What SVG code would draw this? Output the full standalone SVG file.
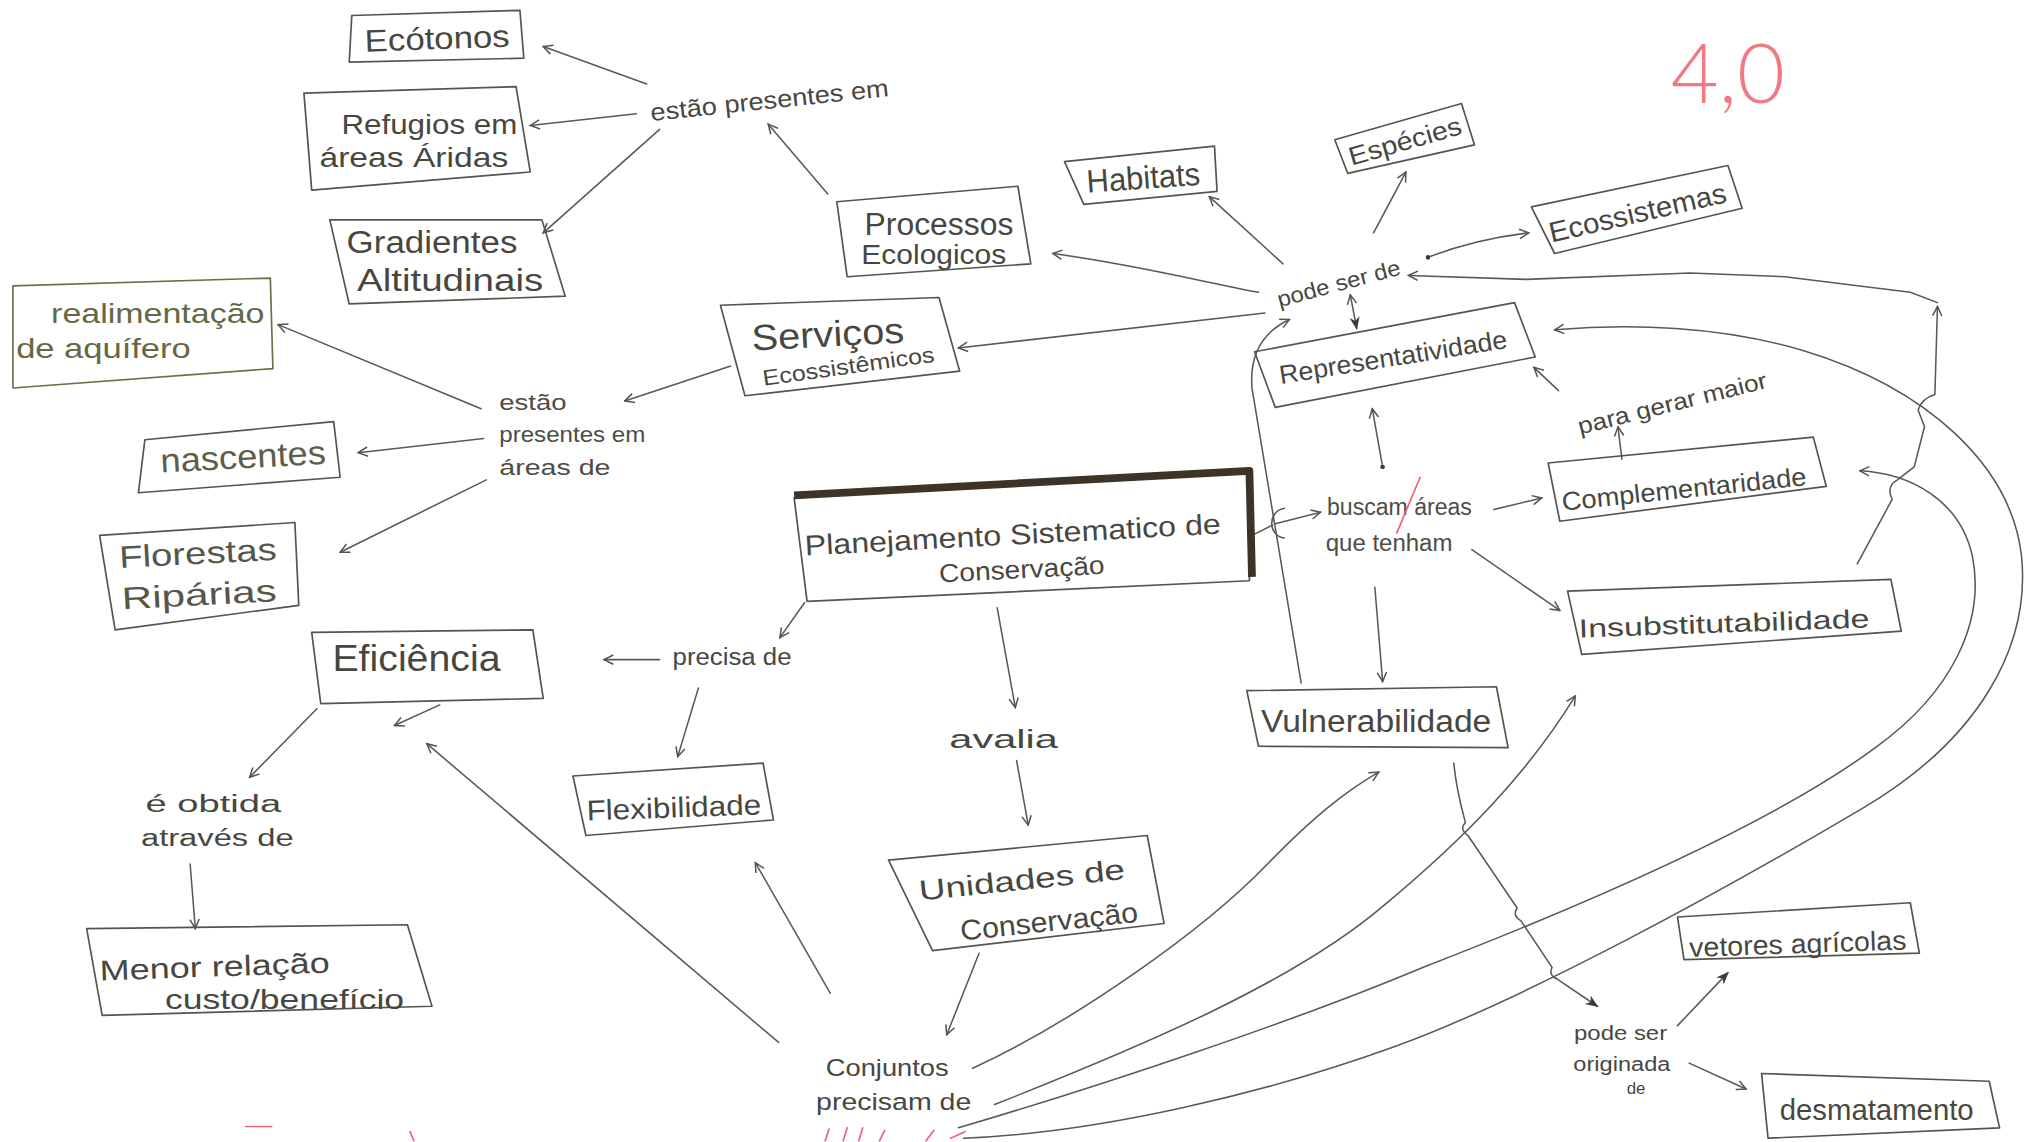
<svg xmlns="http://www.w3.org/2000/svg" width="2028" height="1142" viewBox="0 0 2028 1142">
<defs>
<style>
.bx{fill:none;stroke:#55554e;stroke-width:1.3;stroke-linejoin:round}
.ol{stroke:#6c7048}
.t{font-family:"Liberation Sans","DejaVu Sans",sans-serif;fill:#47473f;text-anchor:middle}
.ts{font-family:"Liberation Sans","DejaVu Sans",sans-serif;fill:#4d4d46;text-anchor:start}
.go{fill:#646844}
.c{fill:none;stroke:#5a5a53;stroke-width:1.2;stroke-linecap:round;stroke-linejoin:round}
.ca{marker-end:url(#a)}
.cf{marker-end:url(#f)}
.red{fill:none;stroke:#ee6272;stroke-width:1.3;stroke-linecap:round}
</style>
<marker id="a" viewBox="0 0 10 10" refX="9" refY="5" markerWidth="9" markerHeight="9" markerUnits="userSpaceOnUse" orient="auto-start-reverse">
<path d="M1,1 L9,5 L1,9" fill="none" stroke="#55554e" stroke-width="1.3"/>
</marker>
<marker id="f" viewBox="0 0 10 10" refX="9" refY="5" markerWidth="10" markerHeight="10" markerUnits="userSpaceOnUse" orient="auto">
<path d="M0,1 L10,5 L0,9 L3,5 Z" fill="#3c3c37"/>
</marker>
<marker id="d" viewBox="0 0 4 4" refX="2" refY="2" markerWidth="3.5" markerHeight="3.5" markerUnits="userSpaceOnUse">
<circle cx="2" cy="2" r="2" fill="#3c3c37"/>
</marker>
</defs>
<rect width="2028" height="1142" fill="#ffffff"/>
<g transform="scale(1.29337)">

<g id="connectors">
<path class="c ca" d="M500,65 L420,36"/>
<path class="c ca" d="M492,88 L410,97"/>
<path class="c ca" d="M510,100 L420,180"/>
<path class="c ca" d="M640,150 L594,96"/>
<path class="c ca" d="M973,226 C930,218 880,205 814,196"/>
<path class="c ca" d="M992,204 L935,152"/>
<path class="c ca" d="M1062,180 L1087,133"/>
<path class="c ca" d="M1104,199 Q1140,185 1182,180" style="marker-start:url(#d)"/>
<path class="c ca" d="M978,242 Q860,255 741,269"/>
<path class="c ca" d="M1006,528 L968,300 Q965,262 997,247"/>
<path class="c cf" d="M1044,228 L1049,254" style="marker-start:url(#a)"/>
<path class="c" d="M1069,361 L1061,316" style="marker-end:url(#a);marker-start:url(#d)"/>
<path class="c" d="M970,413 L984,406 M993,393 C980,395 980,414 993,416"/>
<path class="c ca" d="M986,405 L1021,396"/>
<path class="c ca" d="M1155,394 L1192,385"/>
<path class="c ca" d="M1138,425 L1206,472"/>
<path class="c ca" d="M1063,454 L1069,527"/>
<path class="c ca" d="M1254,355 L1251,330"/>
<path class="c ca" d="M1205,302 L1186,284"/>
<path class="c ca" d="M1436,436 L1463,386 Q1458,376 1467,371 L1480,361 L1488,330 L1483,317 Q1486,308 1496,305 L1498,237"/>
<path class="c ca" d="M1498,234 L1477,226 L1380,214 L1307,211 L1180,216 L1089,213"/>
<path class="c ca" d="M745,880 C850,876 980,845 1079,809 C1180,772 1330,690 1440,625 C1530,572 1570,500 1563,430 C1555,360 1490,300 1394,271 C1330,252 1260,250 1202,255"/>
<path class="c ca" d="M741,872 C850,840 1000,790 1100,748 C1250,690 1380,630 1450,578 C1510,535 1535,480 1525,430 C1515,385 1475,366 1438,364"/>
<path class="c ca" d="M769,854 C880,810 1000,760 1070,700 C1130,650 1180,600 1218,538"/>
<path class="c ca" d="M752,826 C830,790 930,720 980,668 C1015,632 1040,612 1066,597"/>
<path class="c cf" d="M1124,590 C1126,610 1130,625 1133,636 Q1128,641 1135,646 L1173,702 Q1169,708 1176,712 L1200,748 Q1197,754 1204,757 L1235,778"/>
<path class="c cf" d="M1297,793 L1336,752"/>
<path class="c ca" d="M1306,822 L1350,842"/>
<path class="c ca" d="M602,806 L330,575"/>
<path class="c ca" d="M642,768 L584,667"/>
<path class="c ca" d="M757,737 L732,800"/>
<path class="c ca" d="M622,466 L603,493"/>
<path class="c ca" d="M510,510 L467,510"/>
<path class="c ca" d="M540,532 L524,585"/>
<path class="c ca" d="M771,470 L785,547"/>
<path class="c ca" d="M786,588 L795,638"/>
<path class="c ca" d="M245,548 L193,601"/>
<path class="c ca" d="M340,545 L305,561"/>
<path class="c ca" d="M147,668 L151,718"/>
<path class="c ca" d="M372,316 L215,251"/>
<path class="c ca" d="M374,339 L277,350"/>
<path class="c ca" d="M376,371 L263,427"/>
<path class="c ca" d="M565,283 L483,310"/>
</g>

<g id="ecotonos"><polygon class="bx" points="272,12 402,8 405,45 270,48"/>
<text class="t" x="338" y="38" font-size="24" textLength="112" lengthAdjust="spacingAndGlyphs" transform="rotate(-2 338 30)">Ecótonos</text></g>

<g id="refugios"><polygon class="bx" points="235,72 399,67 410,133 241,147"/>
<text class="t" x="332" y="104" font-size="22" textLength="136" lengthAdjust="spacingAndGlyphs">Refugios em</text>
<text class="t" x="320" y="129" font-size="22" textLength="146" lengthAdjust="spacingAndGlyphs">áreas Áridas</text></g>

<g id="gradientes"><polygon class="bx" points="255,170 419,170 437,229 270,235"/>
<text class="t" x="334" y="196" font-size="24" textLength="132" lengthAdjust="spacingAndGlyphs">Gradientes</text>
<text class="t" x="348" y="225" font-size="24" textLength="144" lengthAdjust="spacingAndGlyphs">Altitudinais</text></g>

<g id="realimentacao"><polygon class="bx ol" points="10,221 209,215 211,285 10,300"/>
<text class="t go" x="122" y="250" font-size="22" textLength="165" lengthAdjust="spacingAndGlyphs">realimentação</text>
<text class="t go" x="80" y="277" font-size="22" textLength="135" lengthAdjust="spacingAndGlyphs">de aquífero</text></g>

<g id="estao-presentes-em"><text class="t" x="595" y="84" font-size="19" textLength="185" lengthAdjust="spacingAndGlyphs" transform="rotate(-6 595 78)">estão presentes em</text></g>

<g id="processos"><polygon class="bx" points="647,156 787,144 797,204 655,214"/>
<text class="t" x="726" y="182" font-size="24" textLength="115" lengthAdjust="spacingAndGlyphs">Processos</text>
<text class="t" x="722" y="204" font-size="21" textLength="112" lengthAdjust="spacingAndGlyphs">Ecologicos</text></g>

<g id="habitats"><polygon class="bx" points="823,125 939,113 941,148 838,158"/>
<text class="t" x="884" y="146" font-size="25" textLength="88" lengthAdjust="spacingAndGlyphs" transform="rotate(-4 884 138)">Habitats</text></g>

<g id="especies"><polygon class="bx" points="1032,108 1130,80 1140,112 1042,134"/>
<text class="t" x="1086" y="116" font-size="20" textLength="90" lengthAdjust="spacingAndGlyphs" transform="rotate(-16 1086 108)">Espécies</text></g>

<g id="ecossistemas"><polygon class="bx" points="1184,160 1336,128 1347,161 1202,196"/>
<text class="t" x="1266" y="172" font-size="22" textLength="140" lengthAdjust="spacingAndGlyphs" transform="rotate(-13 1266 164)">Ecossistemas</text></g>

<g id="pode-ser-de"><text class="t" x="1035" y="225" font-size="17" textLength="98" lengthAdjust="spacingAndGlyphs" transform="rotate(-15 1035 219)">pode ser de</text></g>

<g id="representatividade"><polygon class="bx" points="970,272 1171,234 1187,276 986,315"/>
<text class="t" x="1077" y="283" font-size="20" textLength="178" lengthAdjust="spacingAndGlyphs" transform="rotate(-9 1077 276)">Representatividade</text></g>

<g id="servicos"><polygon class="bx" points="557,236 726,230 742,287 576,306"/>
<text class="t" x="640" y="268" font-size="28" textLength="118" lengthAdjust="spacingAndGlyphs" transform="rotate(-3 640 258)">Serviços</text>
<text class="t" x="656" y="289" font-size="17" textLength="134" lengthAdjust="spacingAndGlyphs" transform="rotate(-8 656 283)">Ecossistêmicos</text></g>

<g id="estao-presentes-em-areas-de">
<text class="ts" x="386" y="317" font-size="17" textLength="52" lengthAdjust="spacingAndGlyphs">estão</text>
<text class="ts" x="386" y="342" font-size="17" textLength="113" lengthAdjust="spacingAndGlyphs">presentes em</text>
<text class="ts" x="386" y="367" font-size="17" textLength="86" lengthAdjust="spacingAndGlyphs">áreas de</text></g>

<g id="nascentes"><polygon class="bx" points="112,340 258,326 263,369 107,381"/>
<text class="t" x="188" y="362" font-size="26" textLength="128" lengthAdjust="spacingAndGlyphs" style="fill:#5c5e47" transform="rotate(-3 188 354)">nascentes</text></g>

<g id="florestas"><polygon class="bx" points="77,414 228,404 231,468 89,487"/>
<text class="t" x="153" y="436" font-size="24" textLength="122" lengthAdjust="spacingAndGlyphs" style="fill:#55574a" transform="rotate(-3 153 428)">Florestas</text>
<text class="t" x="154" y="468" font-size="24" textLength="120" lengthAdjust="spacingAndGlyphs" style="fill:#55574a" transform="rotate(-3 154 460)">Ripárias</text></g>

<g id="planejamento"><polygon class="bx" points="614,385 966,363 966,449 624,465"/>
<path d="M614,383 L966,364 L968,446" fill="none" stroke="#3d3326" stroke-width="6" stroke-linejoin="round"/>
<text class="t" x="783" y="421" font-size="22" textLength="322" lengthAdjust="spacingAndGlyphs" transform="rotate(-3 783 414)">Planejamento Sistematico de</text>
<text class="t" x="790" y="447" font-size="20" textLength="128" lengthAdjust="spacingAndGlyphs" transform="rotate(-3 790 440)">Conservação</text></g>

<g id="buscam"><text class="ts" x="1026" y="398" font-size="18" textLength="112" lengthAdjust="spacingAndGlyphs">buscam áreas</text>
<text class="ts" x="1025" y="426" font-size="18" textLength="98" lengthAdjust="spacingAndGlyphs">que tenham</text>
<path class="red" d="M1098,369 L1080,412"/></g>

<g id="complementaridade"><polygon class="bx" points="1197,358 1402,338 1412,376 1206,403"/>
<text class="t" x="1302" y="385" font-size="20" textLength="190" lengthAdjust="spacingAndGlyphs" transform="rotate(-6 1302 378)">Complementaridade</text></g>

<g id="para-gerar-maior"><text class="t" x="1293" y="318" font-size="18" textLength="150" lengthAdjust="spacingAndGlyphs" transform="rotate(-14 1293 312)">para gerar maior</text></g>

<g id="insubstitutabilidade"><polygon class="bx" points="1212,457 1462,448 1470,488 1223,506"/>
<text class="t" x="1333" y="489" font-size="20" textLength="225" lengthAdjust="spacingAndGlyphs" transform="rotate(-2 1333 482)">Insubstitutabilidade</text></g>

<g id="vulnerabilidade"><polygon class="bx" points="964,534 1157,531 1166,578 973,577"/>
<text class="t" x="1064" y="566" font-size="24" textLength="178" lengthAdjust="spacingAndGlyphs">Vulnerabilidade</text></g>

<g id="eficiencia"><polygon class="bx" points="241,489 412,487 420,540 248,544"/>
<text class="t" x="322" y="519" font-size="28" textLength="130" lengthAdjust="spacingAndGlyphs">Eficiência</text></g>

<g id="precisa-de"><text class="t" x="566" y="514" font-size="18" textLength="92" lengthAdjust="spacingAndGlyphs">precisa de</text></g>

<g id="flexibilidade"><polygon class="bx" points="443,600 590,590 598,634 453,646"/>
<text class="t" x="521" y="632" font-size="22" textLength="135" lengthAdjust="spacingAndGlyphs" transform="rotate(-2 521 624)">Flexibilidade</text></g>

<g id="avalia"><text class="t" x="776" y="578" font-size="20" textLength="84" lengthAdjust="spacingAndGlyphs">avalia</text></g>

<g id="unidades"><polygon class="bx" points="687,665 887,646 900,714 721,735"/>
<text class="t" x="790" y="688" font-size="22" textLength="160" lengthAdjust="spacingAndGlyphs" transform="rotate(-6 790 680)">Unidades de</text>
<text class="t" x="811" y="720" font-size="22" textLength="138" lengthAdjust="spacingAndGlyphs" transform="rotate(-6 811 712)">Conservação</text></g>

<g id="e-obtida"><text class="t" x="165" y="628" font-size="18" textLength="105" lengthAdjust="spacingAndGlyphs">é obtida</text>
<text class="t" x="168" y="654" font-size="18" textLength="118" lengthAdjust="spacingAndGlyphs">através de</text></g>

<g id="menor-relacao"><polygon class="bx" points="67,718 315,715 334,778 79,785"/>
<text class="t" x="166" y="755" font-size="22" textLength="178" lengthAdjust="spacingAndGlyphs" transform="rotate(-2 166 748)">Menor relação</text>
<text class="t" x="220" y="780" font-size="22" textLength="185" lengthAdjust="spacingAndGlyphs">custo/benefício</text></g>

<g id="conjuntos"><text class="t" x="686" y="832" font-size="19" textLength="95" lengthAdjust="spacingAndGlyphs">Conjuntos</text>
<text class="t" x="691" y="858" font-size="19" textLength="120" lengthAdjust="spacingAndGlyphs">precisam de</text></g>

<g id="pode-ser-originada-de"><text class="t" x="1253" y="804" font-size="15" textLength="72" lengthAdjust="spacingAndGlyphs">pode ser</text>
<text class="t" x="1254" y="828" font-size="15" textLength="75" lengthAdjust="spacingAndGlyphs">originada</text>
<text class="t" x="1265" y="846" font-size="13">de</text></g>

<g id="vetores"><polygon class="bx" points="1297,709 1477,698 1484,737 1302,742"/>
<text class="t" x="1390" y="737" font-size="21" textLength="168" lengthAdjust="spacingAndGlyphs" transform="rotate(-2 1390 730)">vetores agrícolas</text></g>

<g id="desmatamento"><polygon class="bx" points="1362,830 1538,836 1546,872 1367,880"/>
<text class="t" x="1451" y="866" font-size="23" textLength="150" lengthAdjust="spacingAndGlyphs">desmatamento</text></g>

<g id="nota"><text x="1336" y="80" font-family="Lato,'Liberation Sans',sans-serif" font-weight="300" font-size="64" fill="#f27884" text-anchor="middle">4,0</text>
<path class="red" d="M190,871 L210,871 M317,875 L320,882 M638,882 L641,873 M652,882 L655,872 M664,882 L667,872 M680,882 L684,874 M716,882 L722,874 M735,880 L746,875"/></g>

</g>
</svg>
